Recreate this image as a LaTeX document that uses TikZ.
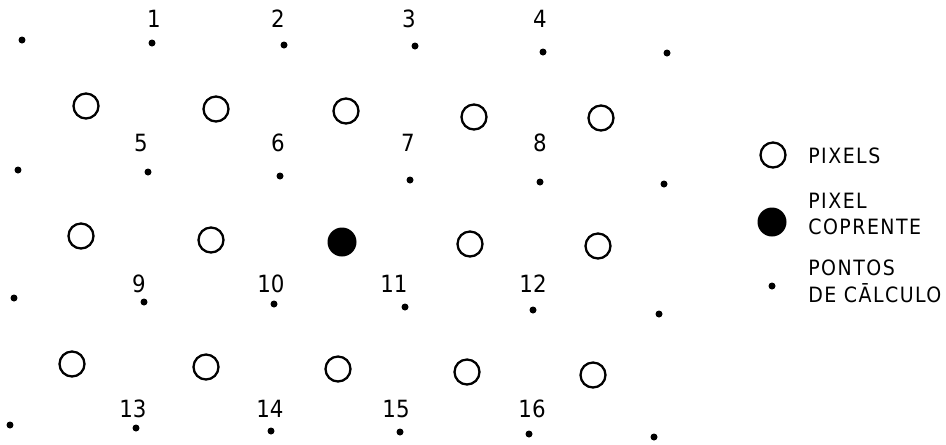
\documentclass[tikz,border=0pt]{standalone}
\usepackage{fontspec}
\newfontfamily\numfont{DejaVu Sans Condensed}
\newfontfamily\legfont{DejaVu Sans Condensed}[LetterSpace=7]
\usetikzlibrary{positioning}
\begin{document}
\begin{tikzpicture}[x=0.02cm,y=-0.02cm]
\tikzstyle{px}=[circle,draw,line width=1.3pt,minimum size=0.5cm,inner sep=0]
\tikzstyle{cur}=[circle,fill=black,minimum size=0.58cm,inner sep=0]
\tikzstyle{pt}=[circle,fill=black,minimum size=0.14cm,inner sep=0]
\tikzstyle{num}=[font=\numfont\fontsize{13.5pt}{15pt}\selectfont,inner sep=0]
\tikzstyle{leg}=[font=\legfont\fontsize{12pt}{15.3pt}\selectfont,align=left,anchor=west,inner sep=0]
\useasboundingbox (0,0) rectangle (946,444);
% calculation points with numbers
\foreach \i/\x/\y/\lx/\ly in {1/152/43/154/19,2/284/45/278/19,3/415/46/409/19,4/543/52/540/19,
  5/148/172/141/143,6/280/176/278/143,7/410/180/408/143,8/540/182/540/143,
  9/144/302/139/284,10/274/304/271/284,11/405/307/394/284,12/533/310/533/284,
  13/136/428/133/409,14/271/431/270/409,15/400/432/396/409,16/529/434/532/409}
  {\node[pt] (p\i) at (\x,\y) {}; \node[num] (n\i) at (\lx,\ly) {\i};}
% points at the edges
\foreach \i/\x/\y in {1/22/40,2/18/170,3/14/298,4/10/425,5/667/53,6/664/184,7/659/314,8/654/437}
  \node[pt] (e\i) at (\x,\y) {};
% pixels
\foreach \i/\x/\y in {1/86/106,2/216/109,3/346/111,4/474/117,5/601/118,
  6/81/236,7/211/240,9/470/244,10/598/246,
  11/72/364,12/206/367,13/338/369,14/467/372,15/593/375}
  \node[px] (c\i) at (\x,\y) {};
\node[cur] (c8) at (342,242) {};
% legend
\node[px] (lpx) at (773,155) {};
\node[leg] (tpx) at (808,156) {PIXELS};
\node[cur] (lcur) at (772,222) {};
\node[leg] (tcur) at (808,214) {PIXEL\\COPRENTE};
\node[pt] (lpt) at (772,286) {};
\node[leg] (tpt) at (808,281) {PONTOS\\DE CĀLCULO};
\end{tikzpicture}
\end{document}
